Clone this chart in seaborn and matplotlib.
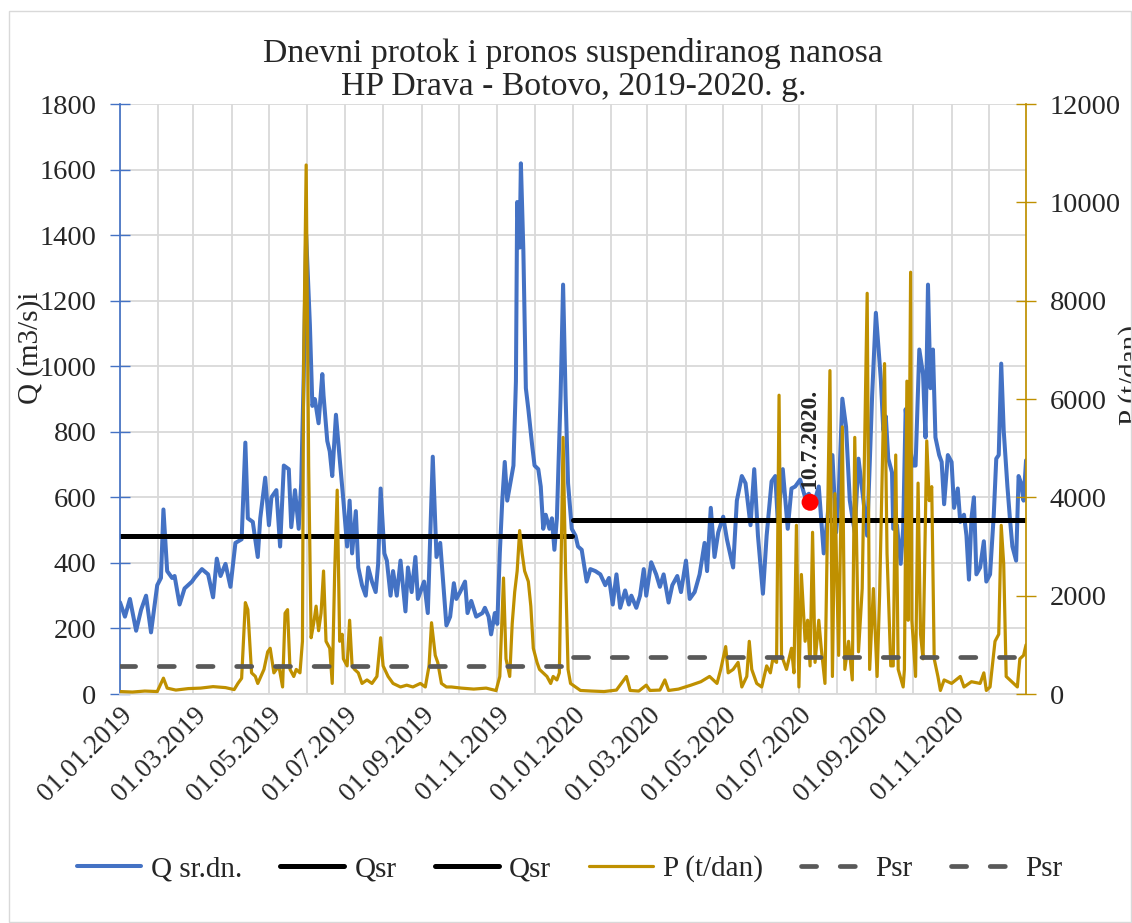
import matplotlib
matplotlib.use("Agg")
import matplotlib.pyplot as plt
import matplotlib.dates as mdates
from matplotlib.patches import Rectangle
import numpy as np
import pandas as pd
import seaborn as sns

# day offsets from 01.01.2019 and daily flow Q (m3/s)
q_day = [0, 4, 8, 13, 17, 21, 25, 30, 33, 35, 38, 42, 44, 48, 52, 58, 60, 66, 71, 75,
         78, 81, 85, 89, 93, 98, 101, 103, 107, 111, 113, 117, 120, 122, 126, 129, 132, 136, 138, 141,
         144, 146, 148, 150, 153, 155, 157, 160, 163, 164, 167, 169, 171, 174, 177, 180, 183, 185, 187, 190,
         192, 195, 198, 200, 203, 206, 208, 210, 213, 215, 218, 220, 223, 226, 230, 232, 235, 238, 240, 245,
         248, 252, 255, 258, 261, 263, 266, 269, 271, 274, 278, 280, 283, 287, 292, 294, 297, 299, 302, 304,
         306, 308, 310, 312, 315, 317, 319, 320, 322, 323, 325, 327, 329, 332, 334, 337, 339, 341, 343, 346,
         348, 350, 352, 355, 357, 359, 361, 364, 367, 369, 372, 376, 379, 383, 387, 391, 394, 397, 400, 403,
         407, 410, 412, 416, 419, 422, 424, 428, 432, 435, 438, 442, 445, 449, 452, 456, 459, 463, 467, 471,
         473, 476, 479, 482, 486, 489, 494, 497, 501, 504, 508, 511, 514, 518, 521, 525, 528, 530, 534, 538,
         541, 544, 548, 552, 555, 559, 563, 567, 570, 574, 577, 579, 582, 585, 588, 592, 595, 599, 602, 606,
         609, 611, 613, 615, 617, 619, 622, 623, 626, 629, 631, 633, 635, 639, 641, 644, 647, 649, 651, 653,
         655, 657, 660, 662, 664, 667, 670, 672, 675, 677, 680, 682, 684, 686, 688, 690, 693, 696, 698, 701,
         704, 706, 708, 710, 712, 715, 717, 719, 722, 724, 726, 728, 730]
q_val = [280, 236, 290, 193, 257, 300, 188, 332, 354, 563, 375, 354, 360, 273, 322, 343, 354, 381, 365, 295,
         413, 360, 397, 327, 461, 472, 767, 536, 525, 418, 536, 660, 515, 600, 622, 450, 697, 686, 509, 622,
         504, 643, 965, 1400, 1126, 879, 900, 826, 976, 911, 772, 740, 665, 852, 718, 590, 450, 590, 429, 558,
         386, 332, 300, 386, 343, 311, 397, 627, 429, 407, 300, 375, 300, 407, 252, 386, 311, 418, 290, 343,
         247, 724, 418, 461, 311, 209, 236, 338, 290, 311, 343, 247, 284, 236, 247, 263, 236, 182, 247, 214,
         429, 590, 708, 590, 654, 697, 954, 1501, 1362, 1619, 1351, 933, 869, 761, 697, 686, 633, 504, 547, 504,
         536, 440, 536, 911, 1249, 911, 643, 504, 483, 450, 440, 343, 381, 375, 365, 332, 354, 273, 365, 263,
         316, 273, 300, 263, 300, 381, 300, 402, 365, 327, 365, 279, 332, 360, 311, 407, 290, 311, 365, 461,
         375, 568, 418, 493, 541, 472, 386, 590, 665, 643, 515, 686, 483, 306, 483, 649, 665, 525, 686, 504,
         627, 633, 654, 600, 611, 579, 633, 429, 536, 729, 493, 600, 901, 815, 590, 493, 718, 590, 483, 911,
         1163, 1062, 960, 804, 847, 718, 676, 504, 515, 397, 504, 869, 783, 697, 697, 1051, 976, 783, 1249, 933,
         1051, 783, 729, 708, 579, 729, 708, 568, 627, 525, 547, 483, 349, 536, 600, 365, 386, 466, 343, 365,
         547, 718, 729, 1008, 804, 633, 536, 450, 407, 665, 643, 590, 713]

# day offsets and daily suspended sediment load P (t/dan)
p_day = [0, 10, 20, 30, 35, 38, 45, 55, 65, 75, 85, 92, 95, 98, 101, 103, 106, 109, 111, 116,
         119, 121, 124, 128, 131, 133, 135, 137, 140, 142, 145, 147, 148, 150, 152, 154, 156, 158, 160, 162,
         164, 166, 169, 171, 173, 175, 177, 179, 180, 183, 185, 187, 189, 192, 195, 199, 203, 207, 210, 212,
         216, 220, 226, 231, 236, 242, 246, 249, 251, 254, 256, 259, 263, 267, 275, 285, 295, 303, 306, 309,
         311, 314, 316, 318, 320, 322, 324, 326, 329, 331, 333, 336, 338, 341, 344, 347, 349, 352, 354, 357,
         359, 361, 363, 367, 371, 380, 390, 400, 408, 411, 418, 424, 427, 435, 439, 442, 450, 460, 468, 475,
         481, 484, 488, 490, 494, 498, 501, 505, 507, 509, 513, 517, 521, 524, 526, 529, 531, 533, 537, 541,
         543, 545, 547, 549, 552, 554, 556, 558, 560, 563, 565, 568, 572, 574, 576, 579, 582, 584, 587, 590,
         592, 595, 598, 602, 604, 607, 610, 612, 616, 618, 621, 623, 625, 627, 631, 632, 634, 635, 637, 638,
         641, 643, 645, 647, 650, 652, 654, 656, 659, 661, 664, 670, 677, 680, 686, 693, 696, 698, 701, 705,
         708, 710, 712, 714, 717, 720, 723, 725, 728, 730]
p_val = [50, 40, 60, 50, 322, 120, 80, 110, 120, 150, 130, 90, 215, 320, 1859, 1716, 430, 360, 215, 500,
         858, 930, 430, 572, 143, 1644, 1716, 500, 357, 500, 430, 1072, 6791, 10760, 4647, 1144, 1430, 1787, 1287, 1644,
         2502, 1072, 930, 215, 2502, 4146, 1072, 1215, 715, 572, 1501, 572, 500, 430, 215, 286, 215, 357, 1144, 572,
         357, 215, 143, 180, 143, 215, 143, 572, 1450, 786, 643, 215, 143, 143, 120, 100, 120, 70, 357, 2359,
         715, 357, 1430, 2073, 2502, 3324, 2860, 2502, 2288, 1787, 930, 643, 500, 430, 357, 215, 357, 286, 430, 5219,
         2502, 500, 215, 143, 72, 60, 50, 80, 357, 72, 60, 180, 72, 80, 286, 72, 100, 180, 250, 357,
         215, 500, 965, 430, 500, 643, 143, 357, 1072, 500, 215, 143, 572, 430, 715, 643, 6077, 786, 500, 930,
         430, 3431, 143, 2431, 1072, 1501, 572, 3289, 643, 1501, 930, 215, 6577, 357, 4075, 786, 5433, 500, 1072, 286,
         5219, 858, 2145, 8150, 500, 2145, 357, 2002, 6720, 2860, 572, 572, 4861, 500, 143, 500, 6363, 1500, 8579, 1501,
         357, 4289, 1215, 715, 5147, 3932, 4218, 715, 357, 72, 286, 215, 357, 143, 250, 215, 430, 72, 143, 1072,
         1215, 3431, 2645, 357, 286, 215, 143, 715, 786, 1001]

# yearly means
year_start = ["2019-01-01", "2020-01-01"]
year_end = ["2019-12-31", "2020-12-31"]
qsr_val = [482, 531]
psr_val = [575, 750]

marker_date = "2020-07-10"
marker_q = 585
marker_label = "10.7.2020."

BLUE = "#4472C4"
GOLD = "#BF9000"
GRID = "#D9D9D9"

sns.set_theme(style="white")
plt.rcParams["font.family"] = ["Liberation Serif", "DejaVu Serif"]

start = pd.Timestamp("2019-01-01")
q_dates = start + pd.to_timedelta(q_day, unit="D")
p_dates = start + pd.to_timedelta(p_day, unit="D")

fig = plt.figure(figsize=(11.32, 9.23), dpi=100)
ax = fig.add_axes([0.106, 0.2481, 0.8004, 0.6392])
ax2 = ax.twinx()

sns.lineplot(x=q_dates, y=q_val, ax=ax, color=BLUE, linewidth=2.9,
             estimator=None, sort=False, legend=False, label="Q sr.dn.")
for i in range(len(qsr_val)):
    sns.lineplot(x=pd.to_datetime([year_start[i], year_end[i]]), y=[qsr_val[i], qsr_val[i]],
                 ax=ax, color="black", linewidth=3.6, estimator=None, legend=False, label="Qsr")

sns.lineplot(x=p_dates, y=p_val, ax=ax2, color=GOLD, linewidth=2.3,
             estimator=None, sort=False, legend=False, label="P (t/dan)")
for i in range(len(psr_val)):
    sns.lineplot(x=pd.to_datetime([year_start[i], year_end[i]]), y=[psr_val[i], psr_val[i]],
                 ax=ax2, color="#595959", linewidth=3.4, estimator=None, legend=False,
                 label="Psr", linestyle=(0, (3.2, 5.0)), dash_capstyle="round")

# highlighted day
md = mdates.date2num(pd.Timestamp(marker_date))
ax2.scatter([md], [marker_q], s=150, color="red", edgecolors="none", zorder=10,
            transform=ax.transData)
ax2.text(md, marker_q + 40, marker_label, rotation=90, ha="center", va="bottom",
         fontsize=17, fontweight="bold", transform=ax.transData, zorder=10)

ax.set_xlim(pd.Timestamp("2019-01-01"), pd.Timestamp("2020-12-31"))
ax.set_ylim(0, 1800)
ax2.set_ylim(0, 12000)
ax.set_yticks(np.arange(0, 1801, 200))
ax2.set_yticks(np.arange(0, 12001, 2000))

ax.xaxis.set_major_locator(mdates.MonthLocator(bymonth=[1, 3, 5, 7, 9, 11]))
ax.xaxis.set_minor_locator(mdates.MonthLocator())
ax.xaxis.set_major_formatter(mdates.DateFormatter("%d.%m.%Y"))
ax.grid(True, axis="x", which="both", color=GRID, linewidth=1.3)
ax.grid(True, axis="y", which="major", color=GRID, linewidth=1.3)
ax2.grid(False)
ax.set_axisbelow(True)

for lbl in ax.get_xticklabels():
    lbl.set_rotation(45)
    lbl.set_ha("right")
    lbl.set_va("top")
    lbl.set_rotation_mode("anchor")

ax.tick_params(axis="x", which="both", length=0, pad=6, labelsize=19.5)
ax.tick_params(axis="y", direction="inout", length=14, width=1, color=BLUE,
               labelsize=20.5, pad=10)
ax2.tick_params(axis="y", direction="inout", length=14, width=1, color=GOLD,
                labelsize=20.5, pad=10)

for s in ["top", "right"]:
    ax.spines[s].set_visible(False)
ax.spines["left"].set_color(BLUE)
ax.spines["bottom"].set_color(GRID)
ax.spines["bottom"].set_linewidth(1.3)
for s in ["top", "left", "bottom"]:
    ax2.spines[s].set_visible(False)
ax2.spines["right"].set_color(GOLD)

ax.set_xlabel("")
ax.set_ylabel("Q (m3/s)i", fontsize=21)
ax.yaxis.set_label_coords(-0.0835, 0.586)
ax2.set_ylabel("P (t/dan)", fontsize=21, rotation=90)
ax2.yaxis.set_label_coords(1.1015, 0.54)

fig.text(0.5065, 0.924, "Dnevni protok i pronos suspendiranog nanosa\nHP Drava - Botovo, 2019-2020. g.",
         ha="center", va="center", fontsize=24.3, linespacing=1.12)

h1, l1 = ax.get_legend_handles_labels()
h2, l2 = ax2.get_legend_handles_labels()
fig.legend(h1 + h2, l1 + l2, loc="center", bbox_to_anchor=(0.503, 0.0585), ncol=6,
           frameon=False, fontsize=21, handlelength=2.2, handletextpad=0.35, columnspacing=1.3)

fig.patches.append(Rectangle((9 / 1132, 0.001), 1 - 10 / 1132, 1 - 10 / 923 - 0.002,
                             transform=fig.transFigure, fill=False, edgecolor=GRID, linewidth=1))

fig.savefig("out.png", dpi=100)
